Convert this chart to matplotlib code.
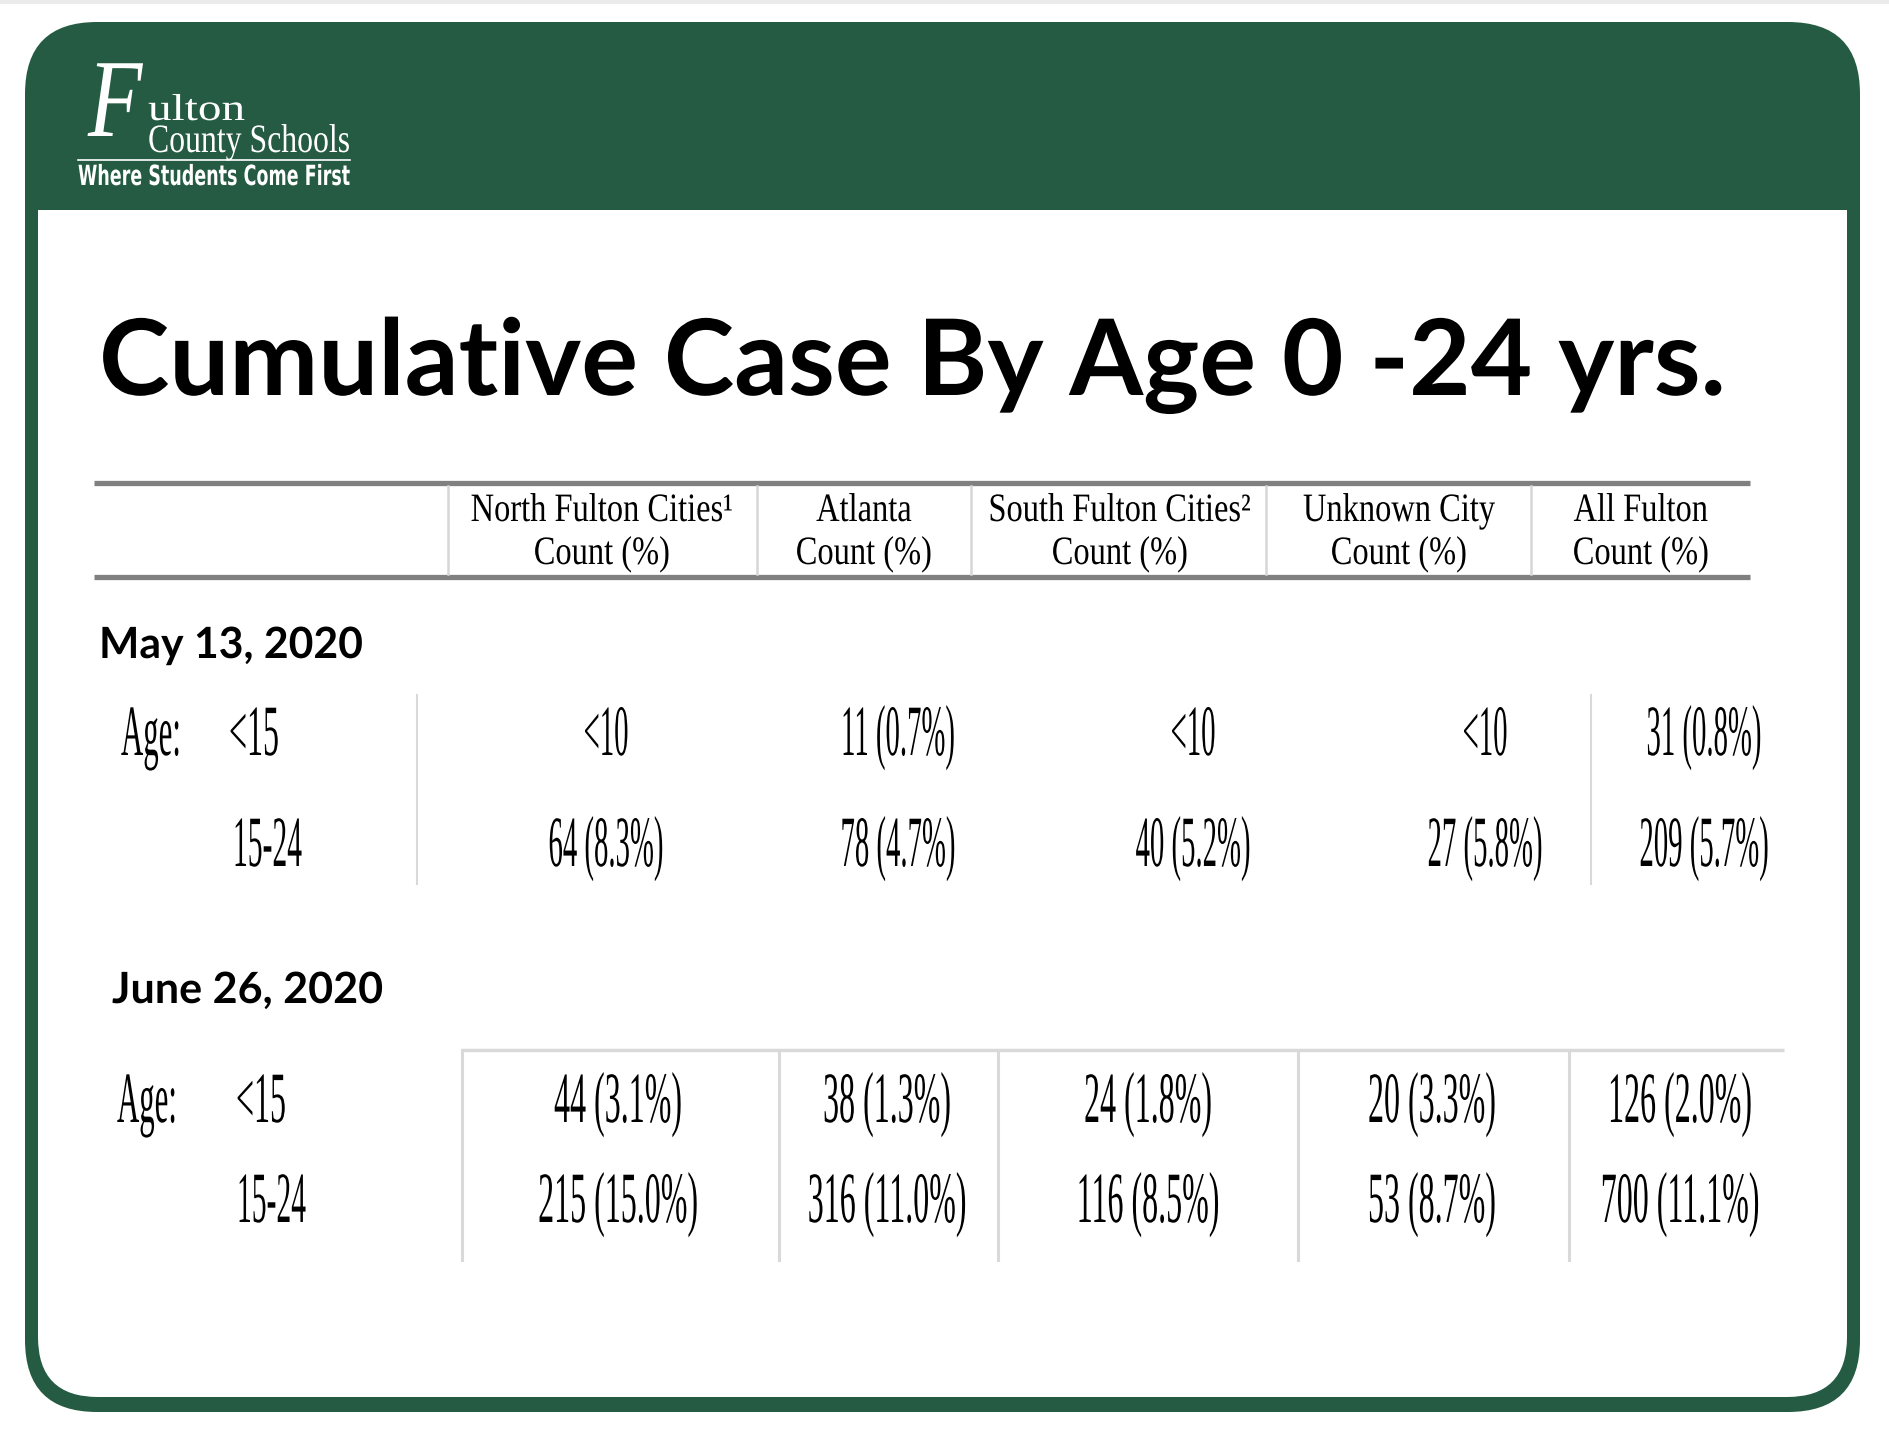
import matplotlib
matplotlib.use("Agg")
import matplotlib.pyplot as plt
from matplotlib.patches import FancyBboxPatch, Rectangle
from matplotlib.patheffects import AbstractPathEffect
from matplotlib.transforms import Affine2D

# table content
columns = ["North Fulton Cities\u00b9", "Atlanta", "South Fulton Cities\u00b2",
           "Unknown City", "All Fulton"]
age_groups = ["<15", "15-24"]
dates = ["May 13, 2020", "June 26, 2020"]

# None = suppressed (<10)
may_counts = [[None, 11, None, None, 31],
              [64, 78, 40, 27, 209]]
may_pcts = [[None, 0.7, None, None, 0.8],
            [8.3, 4.7, 5.2, 5.8, 5.7]]
june_counts = [[44, 38, 24, 20, 126],
               [215, 316, 116, 53, 700]]
june_pcts = [[3.1, 1.3, 1.8, 3.3, 2.0],
             [15.0, 11.0, 8.5, 8.7, 11.1]]

GREEN = "#245b42"
W, H = 1890, 1432


class Stretch(AbstractPathEffect):
    """Stretch text vertically about its baseline (gives a condensed look)."""

    def __init__(self, sy):
        super().__init__()
        self.sy = sy

    def draw_path(self, renderer, gc, tpath, affine, rgbFace=None):
        y0 = affine.transform((0, 0))[1]
        aff = affine + Affine2D().translate(0, -y0).scale(1, self.sy).translate(0, y0)
        renderer.draw_path(gc, tpath, aff, rgbFace)


def cell(count, pct):
    if count is None:
        return "<10"
    return f"{count} ({pct:.1f}%)"


fig = plt.figure(figsize=(W / 100, H / 100), dpi=100)
ax = fig.add_axes([0, 0, 1, 1])
ax.set_xlim(0, W)
ax.set_ylim(H, 0)
ax.axis("off")
renderer = fig.canvas.get_renderer()


def width_of(s, **kw):
    t = ax.text(0, 0, s, **kw)
    w = t.get_window_extent(renderer).width
    t.remove()
    return w


def condensed(x, y, s, size, target=None, sx=None, **kw):
    """Text at cap height of `size`, squeezed to `target` px width (or by sx)."""
    if sx is None:
        sx = target / width_of(s, fontsize=size, **kw)
    t = ax.text(x, y, s, fontsize=size * sx, va="baseline", **kw)
    t.set_path_effects([Stretch(1 / sx)])
    return t


# slide frame
ax.add_patch(Rectangle((0, 0), W, 4, color="#ebebeb", lw=0))
ax.add_patch(FancyBboxPatch((25, 22), 1835, 1390, boxstyle="round,pad=0,rounding_size=72",
                            fc=GREEN, ec="none"))
ax.add_patch(FancyBboxPatch((38, 120), 1809, 1277, boxstyle="round,pad=0,rounding_size=60",
                            fc="white", ec="none"))
ax.add_patch(Rectangle((38, 100), 1809, 110, fc=GREEN, ec="none"))

# logo
condensed(88, 136, "F", 80, sx=0.8, color="white", family="Liberation Serif",
          style="italic", ha="left")
condensed(148, 120, "ulton", 27, target=97, color="white",
          family="Liberation Serif", ha="left")
condensed(148, 152, "County Schools", 29, target=202, color="white",
          family="Liberation Serif", ha="left")
ax.plot([78, 350], [160, 160], color="white", lw=1.2)
condensed(78, 185, "Where Students Come First", 20, target=272, color="white",
          family="DejaVu Sans", weight="bold", ha="left")

# title
condensed(99, 395, "Cumulative Case By Age 0 -24 yrs.", 76, target=1625,
          family="Lato", weight="bold", ha="left")

# header
ax.plot([94, 1750], [483, 483], color="#808080", lw=3.8, solid_capstyle="butt")
ax.plot([94, 1750], [577, 577], color="#808080", lw=3.8, solid_capstyle="butt")
for x in [448, 757, 971, 1266, 1531]:
    ax.plot([x, x], [486, 574], color="#d6d6d6", lw=1.8)

head_x = [602, 864, 1120, 1399, 1641]
head_sx = 262 / width_of(columns[0], fontsize=29, family="Liberation Serif")
for i, name in enumerate(columns):
    condensed(head_x[i], 521, name, 29, sx=head_sx, family="Liberation Serif", ha="center")
    condensed(head_x[i], 564, "Count (%)", 29, sx=head_sx, family="Liberation Serif",
              ha="center")

VAL_SIZE = 52


def age_block(counts, pcts, col_x, rows_y, age_x, label_x, val_sx, date, date_xy, date_w):
    condensed(date_xy[0], date_xy[1], date, 31, target=date_w, family="Lato",
              weight="bold", ha="left")
    condensed(age_x, rows_y[0], "Age:", VAL_SIZE, target=60, family="Liberation Serif",
              ha="left")
    for r, grp in enumerate(age_groups):
        condensed(label_x[r], rows_y[r], grp, VAL_SIZE, target=50 if r == 0 else 69,
                  family="Liberation Serif", ha="left")
        for c in range(len(columns)):
            condensed(col_x[c], rows_y[r], cell(counts[r][c], pcts[r][c]), VAL_SIZE,
                      sx=val_sx, family="Liberation Serif", ha="center")


# May block
for x in [417, 1591]:
    ax.plot([x, x], [695, 884], color="#d9d9d9", lw=1.5)
may_sx = 115 / width_of("64 (8.3%)", fontsize=VAL_SIZE, family="Liberation Serif")
age_block(may_counts, may_pcts, [606, 898, 1193, 1485, 1704], [755, 866], 121, [229, 233],
          may_sx, dates[0], (99, 658), 264)

# June block
ax.plot([462, 1784], [1050, 1050], color="#d9d9d9", lw=2.5, solid_capstyle="butt")
for x in [462, 779, 998, 1298, 1569]:
    ax.plot([x, x], [1050, 1260], color="#d9d9d9", lw=2.2)
june_sx = 160 / width_of("215 (15.0%)", fontsize=VAL_SIZE, family="Liberation Serif")
age_block(june_counts, june_pcts, [618, 887, 1148, 1432, 1680], [1122, 1222], 117, [236, 237],
          june_sx, dates[1], (112, 1003), 271)

fig.savefig("out.png", dpi=100)
